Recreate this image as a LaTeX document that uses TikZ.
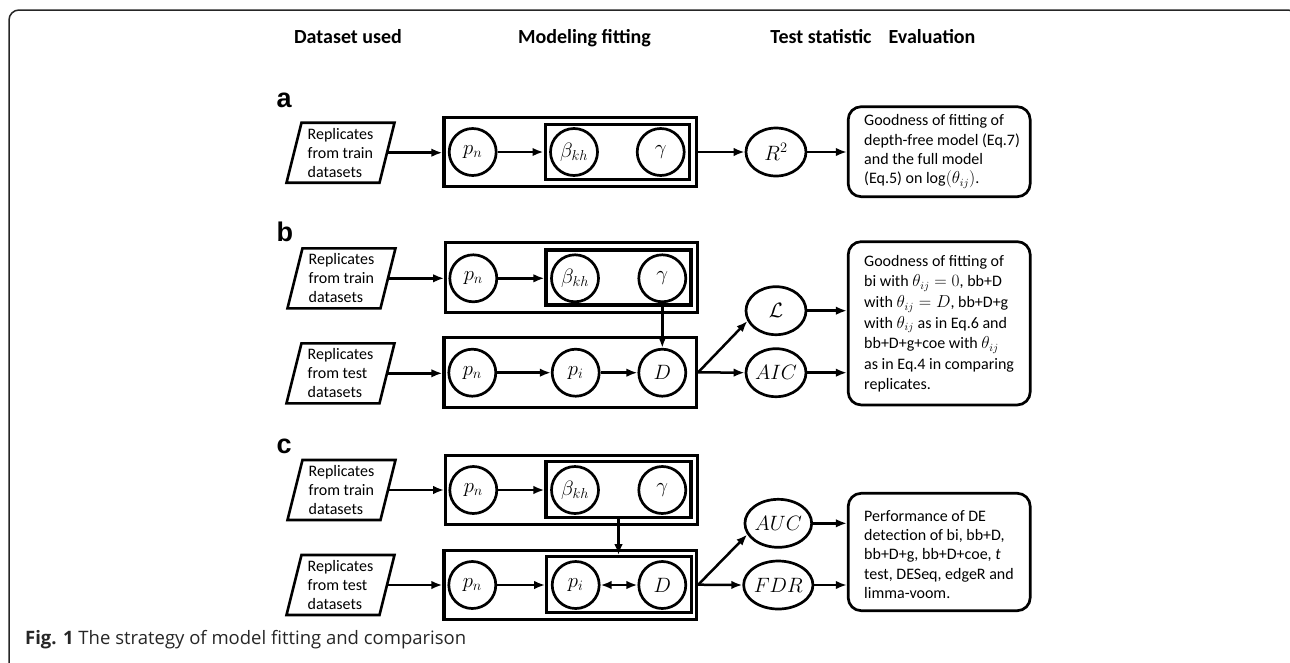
\documentclass[tikz,border=0pt]{standalone}
\usepackage{fontspec}
\setmainfont{Carlito}
\newfontfamily\labfont{Liberation Sans}
\newfontfamily\capfont{Open Sans}
\usetikzlibrary{arrows.meta,shapes.geometric,calc}
\newcommand\drawpara[1]{\draw[line width=2.6pt, line join=miter] ($(#1)+(-39,-30)$) -- ($(#1)+(54,-30)$) -- ($(#1)+(39,30)$) -- ($(#1)+(-54,30)$) -- cycle;}
\begin{document}
\begin{tikzpicture}[x=1pt,y=-1pt,
  arr/.style={-{Latex[length=11pt,width=8.5pt]}, line width=2.5pt},
  dblarr/.style={{Latex[length=11pt,width=8.5pt]}-{Latex[length=11pt,width=8.5pt]}, line width=2.5pt},
  var/.style={circle, draw, line width=2.7pt, minimum size=47pt, inner sep=0pt, font=\fontsize{22}{26}\selectfont},
  stat/.style={ellipse, draw, line width=2.7pt, minimum width=60pt, minimum height=48pt, inner sep=0pt, font=\fontsize{21}{26}\selectfont},
  plate/.style={draw, rectangle, line width=3.1pt, inner sep=0pt},
  evalbox/.style={draw, rectangle, rounded corners=13pt, line width=2.7pt, minimum width=182pt, inner sep=0pt},
  evaltext/.style={anchor=west, align=left, inner sep=0pt, font=\fontsize{16}{19.4}\selectfont},
  data/.style={minimum width=93pt, minimum height=60pt, inner sep=0pt, align=left, font=\fontsize{16}{19}\selectfont},
  head/.style={anchor=base, font=\bfseries\fontsize{20}{24}\selectfont},
  lab/.style={anchor=base west, font=\labfont\bfseries\fontsize{27}{30}\selectfont}
]
\useasboundingbox (0,0) rectangle (1290,662);
% outer frame
\draw[line width=1.5pt, color=black!85, rounded corners=10pt] (9,680) -- (9,10) -- (1298,10) -- (1298,680);

% headers
\node[head] (h1) at (348,43) {Dataset used};
\node[head] (h2) at (584.5,43) {Modeling fitting};
\node[head] (h3) at (821,43) {Test statistic};
\node[head] (h4) at (932,43) {Evaluation};

% ---------------- panel a
\node[lab] (la) at (273,107) {a};
\node[data] (da) at (340.5,152.7) {Replicates\\from train\\datasets};
\drawpara{da}
\node[plate, minimum width=252.7, minimum height=69.4] (oa) at (570.3,152) {};
\node[plate, minimum width=144.3, minimum height=55.3] (ia) at (617.2,151.7) {};
\node[var] (pna) at (472.7,152) {$p_n$};
\node[var] (ba) at (574,152) {$\beta_{kh}$};
\node[var] (ga) at (660.7,152) {$\gamma$};
\node[stat] (ra) at (776,152) {$R^2$};
\node[evalbox, minimum height=90] (ea) at (939.2,151.7) {};
\node[evaltext] (ta) at (864,151.7) {Goodness of fitting of\\depth-free model (Eq.7)\\and the full model\\(Eq.5) on $\log\!\big(\theta_{ij}\big)$.};
\draw[arr] (da.east) -- (da.east -| oa.west);
\draw[arr] (pna.east) -- (pna.east -| ia.west);
\draw[arr] (oa.east) -- (ra.west);
\draw[arr] (ra.east) -- (ra.east -| ea.west);

% ---------------- panel b
\node[lab] (lb) at (273,241.7) {b};
\node[data] (db1) at (341.5,278.3) {Replicates\\from train\\datasets};
\drawpara{db1}
\node[data] (db2) at (340.5,373.3) {Replicates\\from test\\datasets};
\drawpara{db2}
\node[plate, minimum width=252, minimum height=69.6] (ob1) at (571.7,277.5) {};
\node[plate, minimum width=145, minimum height=55] (ib1) at (618.5,277.5) {};
\node[var] (pnb1) at (473.3,278.3) {$p_n$};
\node[var] (bb1) at (575,278.3) {$\beta_{kh}$};
\node[var] (gb1) at (662.3,278.3) {$\gamma$};
\node[plate, minimum width=252.7, minimum height=70] (ob2) at (570.3,372.3) {};
\node[var] (pnb2) at (472.3,372.7) {$p_n$};
\node[var] (pib) at (575.7,372.7) {$p_i$};
\node[var] (Db) at (662.3,372.7) {$D$};
\node[stat] (Lb) at (776,310.7) {$\mathcal{L}$};
\node[stat] (AICb) at (776,372.7) {$AIC$};
\node[evalbox, minimum height=163.3] (eb) at (939.2,323.3) {};
\node[evaltext, font=\fontsize{16}{20.6}\selectfont] (tb) at (864,323.8) {Goodness of fitting of\\bi with $\theta_{ij}=0$, bb+D\\with $\theta_{ij}=D$, bb+D+g\\with $\theta_{ij}$ as in Eq.6 and\\bb+D+g+coe with $\theta_{ij}$\\as in Eq.4 in comparing\\replicates.};
\draw[arr] (db1.east) -- (db1.east -| ob1.west);
\draw[arr] (pnb1.east) -- (pnb1.east -| ib1.west);
\draw[arr] (gb1 |- ib1.south) -- (Db.north);
\draw[arr] (db2.east) -- (db2.east -| ob2.west);
\draw[arr] (pnb2) -- (pib);
\draw[arr] (pib) -- (Db);
\draw[arr] (ob2.east) -- (Lb.200);
\draw[arr] (ob2.east) -- (AICb.west);
\draw[arr] (Lb.east) -- (Lb.east -| eb.west);
\draw[arr] (AICb.east) -- (AICb.east -| eb.west);

% ---------------- panel c
\node[lab] (lc) at (273,453.3) {c};
\node[data] (dc1) at (341.5,490) {Replicates\\from train\\datasets};
\drawpara{dc1}
\node[data] (dc2) at (340.5,585) {Replicates\\from test\\datasets};
\drawpara{dc2}
\node[plate, minimum width=252, minimum height=69.3] (oc1) at (571.7,489.7) {};
\node[plate, minimum width=145, minimum height=55.6] (ic1) at (618.5,489.5) {};
\node[var] (pnc1) at (473.3,490) {$p_n$};
\node[var] (bc1) at (575,490) {$\beta_{kh}$};
\node[var] (gc1) at (662.3,490) {$\gamma$};
\node[plate, minimum width=252.7, minimum height=69.3] (oc2) at (570.3,584.7) {};
\node[plate, minimum width=145, minimum height=56] (ic2) at (619.2,584.7) {};
\node[var] (pnc2) at (472.3,585) {$p_n$};
\node[var] (pic) at (575.7,585) {$p_i$};
\node[var] (Dc) at (662.3,585) {$D$};
\node[stat] (AUCc) at (778.3,523.3) {$AUC$};
\node[stat] (FDRc) at (778.3,585) {$FDR$};
\node[evalbox, minimum height=117.4] (ec) at (939.2,552) {};
\node[evaltext] (tc) at (864,554.5) {Performance of DE\\detection of bi, bb+D,\\bb+D+g, bb+D+coe, \textit{t}\\test, DESeq, edgeR and\\limma-voom.};
\draw[arr] (dc1.east) -- (dc1.east -| oc1.west);
\draw[arr] (pnc1.east) -- (pnc1.east -| ic1.west);
\draw[arr] (ic1.south) -- (ic1.south |- ic2.north);
\draw[arr] (dc2.east) -- (dc2.east -| oc2.west);
\draw[arr] (pnc2.east) -- (pnc2.east -| ic2.west);
\draw[dblarr] (pic) -- (Dc);
\draw[arr] (oc2.east) -- (AUCc.200);
\draw[arr] (oc2.east) -- (FDRc.west);
\draw[arr] (AUCc.east) -- (AUCc.east -| ec.west);
\draw[arr] (FDRc.east) -- (FDRc.east -| ec.west);

% caption
\node[anchor=base west, inner sep=0pt, font=\capfont\fontsize{18.5}{22}\selectfont, text=black!85] (cap) at (25,644) {\textbf{Fig. 1} The strategy of model fitting and comparison};
\end{tikzpicture}
\end{document}
